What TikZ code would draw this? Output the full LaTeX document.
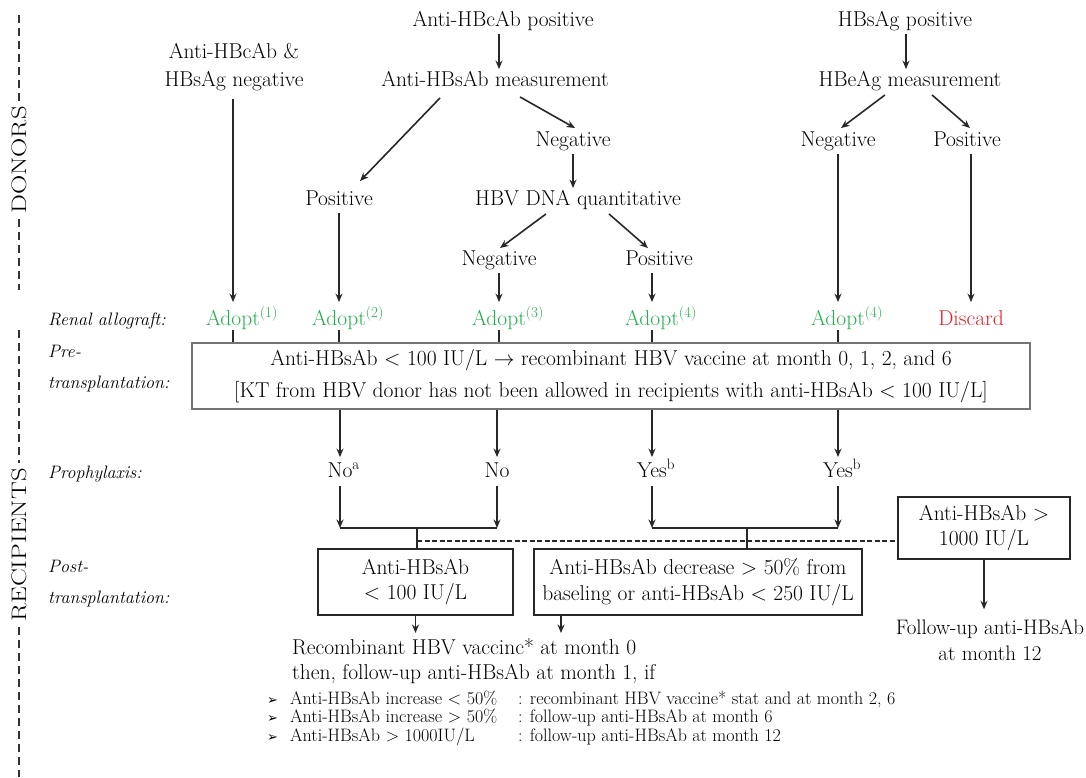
\documentclass[tikz,border=0pt]{standalone}
\usepackage{fontspec}
\newfontfamily\symfont{DejaVu Sans}
\usetikzlibrary{arrows.meta}

\definecolor{adoptgreen}{RGB}{34,177,76}
\definecolor{discardred}{RGB}{235,28,36}
\definecolor{linegray}{RGB}{40,40,40}
\newcommand{\fsmain}{\fontsize{21.5}{28}\selectfont}
\newcommand{\fslist}{\fontsize{18}{20}\selectfont}

\begin{document}
\begin{tikzpicture}[x=1pt,y=-1pt,
	txt/.style={font=\fsmain, inner sep=0pt, text height=15pt, text depth=4.5pt},
	multi/.style={font=\fsmain, inner sep=0pt, align=center},
	rowlbl/.style={font=\fontsize{18}{31}\selectfont\itshape, inner sep=0pt, align=left},
	box/.style={draw=linegray, line width=1.4pt, align=center, inner sep=0pt},
	adopt/.style={txt, text=adoptgreen},
	lst/.style={font=\fslist, inner sep=0pt, anchor=base west},
	arr/.style={draw=linegray, line width=1.6pt, -{Stealth[length=8.5pt,width=7pt]}, shorten <=3pt, shorten >=2pt},
	toad/.style={arr, shorten >=8pt},
	link/.style={draw=linegray, line width=1.6pt},
	dashlink/.style={draw=linegray, line width=1.2pt, dash pattern=on 5pt off 2.5pt},
	side/.style={draw=black!80, line width=2.4pt, dash pattern=on 8pt off 5pt},
	sidelbl/.style={font=\fontsize{21}{24}\selectfont, rotate=90, inner xsep=5pt, inner ysep=0pt}]
	\useasboundingbox (0,0) rectangle (1086,777);

	% side bars
	\node[sidelbl] (donors) at (19,160) {\scalebox{1.27}[1]{DONORS}};
	\draw[side] (19,15) -- (donors.east);
	\draw[side] (donors.west) -- (19,290);
	\node[sidelbl] (recip) at (19,545) {\scalebox{1.27}[1]{RECIPIENTS}};
	\draw[side] (19,330) -- (recip.east);
	\draw[side] (recip.west) -- (19,777);

	% row labels
	\node[rowlbl, anchor=base west] (rl) at (48,325) {Renal allograft:};
	\node[rowlbl, anchor=west] (prel) at (48,369) {Pre-\\transplantation:};
	\node[rowlbl, anchor=base west] (prol) at (48,478) {Prophylaxis:};
	\node[rowlbl, anchor=west] (postl) at (48,584) {Post-\\transplantation:};

	% donors
	\node[txt] (hbc) at (503,21) {Anti-HBcAb positive};
	\node[txt] (hbsm) at (495,81) {Anti-HBsAb measurement};
	\node[multi] (neg0) at (234,67) {Anti-HBcAb \&\\HBsAg negative};
	\node[txt] (pos1) at (339,200) {Positive};
	\node[txt] (neg1) at (573,141) {Negative};
	\node[txt] (dna) at (578,200) {HBV DNA quantitative};
	\node[txt] (neg2) at (499,260) {Negative};
	\node[txt] (pos2) at (659,260) {Positive};
	\node[txt] (hbs) at (905,21) {HBsAg positive};
	\node[txt] (hbe) at (910,81) {HBeAg measurement};
	\node[txt] (neg3) at (838,141) {Negative};
	\node[txt] (pos3) at (967,141) {Positive};

	\node[adopt] (ad1) at (233,320) {Adopt\rlap{\textsuperscript{(1)}}};
	\node[adopt] (ad2) at (339,320) {Adopt\rlap{\textsuperscript{(2)}}};
	\node[adopt] (ad3) at (499,320) {Adopt\rlap{\textsuperscript{(3)}}};
	\node[adopt] (ad4) at (652,320) {Adopt\rlap{\textsuperscript{(4)}}};
	\node[adopt] (ad5) at (838,320) {Adopt\rlap{\textsuperscript{(4)}}};
	\node[txt, text=discardred] (disc) at (971,320) {Discard};

	\draw[arr] ([xshift=-4pt]hbc.south) -- ([xshift=4pt]hbsm.north);
	\draw[arr, shorten <=0pt, shorten >=0pt] ([shift={(-55,7)}]hbsm.south) -- ([shift={(21,-9)}]pos1.north);
	\draw[arr, shorten <=0pt, shorten >=0pt] ([shift={(25,6)}]hbsm.south) -- ([shift={(2,-3)}]neg1.north);
	\draw[arr] (neg1.south) -- (neg1.south |- dna.north);
	\draw[arr, shorten <=0pt, shorten >=0pt] ([shift={(-32,4)}]dna.south) -- ([shift={(1,-2)}]neg2.north);
	\draw[arr, shorten <=0pt, shorten >=0pt] ([shift={(31,4)}]dna.south) -- ([shift={(-11,-2)}]pos2.north);
	\draw[arr] ([xshift=1pt]hbs.south) -- ([xshift=-4pt]hbe.north);
	\draw[arr, shorten <=0pt, shorten >=0pt] ([shift={(-25,4)}]hbe.south) -- ([shift={(3,-3)}]neg3.north);
	\draw[arr, shorten <=0pt, shorten >=0pt] ([shift={(22,4)}]hbe.south) -- ([shift={(3,-3)}]pos3.north);

	\draw[toad, shorten <=8pt] (neg0.south -| ad1.north) -- (ad1.north);
	\draw[toad] (pos1.south) -- (ad2.north);
	\draw[toad] (neg2.south) -- (ad3.north);
	\draw[toad] (ad4.north |- pos2.south) -- (ad4.north);
	\draw[toad] (neg3.south) -- (ad5.north);
	\draw[toad] (disc.north |- pos3.south) -- (disc.north);

	% recipients
	\node[box, draw=black!55, line width=1.8pt, minimum width=838pt, minimum height=66pt,
		font=\fontsize{21.5}{32}\selectfont] (pre) at (611,376)
		{Anti-HBsAb < 100 IU/L $\rightarrow$ recombinant HBV vaccine at month 0, 1, 2, and 6\\
		{[}KT from HBV donor has not been allowed in recipients with anti-HBsAb < 100 IU/L{]}};

	\draw[link] (ad1.south) -- (ad1.south |- pre.north);
	\draw[link] (ad2.south) -- (ad2.south |- pre.north);
	\draw[link] (ad3.south) -- (ad3.south |- pre.north);
	\draw[link] (ad4.south) -- (ad4.south |- pre.north);
	\draw[link] (ad5.south) -- (ad5.south |- pre.north);

	\node[txt] (no1) at (340,472) {No\rlap{\textsuperscript{a}}};
	\node[txt] (no2) at (497,472) {No};
	\node[txt] (yes1) at (652,472) {Yes\rlap{\textsuperscript{b}}};
	\node[txt] (yes2) at (838,472) {Yes\rlap{\textsuperscript{b}}};

	\draw[arr, shorten <=0pt, shorten >=5pt] (no1.north |- pre.south) -- (no1.north);
	\draw[arr, shorten <=0pt, shorten >=5pt] (no2.north |- pre.south) -- (no2.north);
	\draw[arr, shorten <=0pt, shorten >=5pt] (yes1.north |- pre.south) -- (yes1.north);
	\draw[arr, shorten <=0pt, shorten >=5pt] (yes2.north |- pre.south) -- (yes2.north);

	\coordinate (j1) at (417,528);
	\coordinate (j2) at (747,528);
	\coordinate (d1) at (417,541);

	\node[box, minimum width=195pt, minimum height=66pt, font=\fontsize{21.5}{25}\selectfont] (low1) at (415.5,582) {Anti-HBsAb\\< 100 IU/L};
	\node[box, minimum width=328pt, minimum height=66pt, font=\fontsize{21.5}{26}\selectfont] (dec) at (698,582) {Anti-HBsAb decrease > 50\% from\\baseling or anti-HBsAb < 250 IU/L};
	\node[box, minimum width=172pt, minimum height=62pt, font=\fontsize{21.5}{25}\selectfont] (high) at (984,528) {Anti-HBsAb >\\1000 IU/L};

	\draw[arr, shorten <=4pt, shorten >=0pt] (no1.south) -- (no1.south |- j1);
	\draw[arr, shorten <=4pt, shorten >=0pt] (no2.south) -- (no2.south |- j1);
	\draw[arr, shorten <=4pt, shorten >=0pt] (yes1.south) -- (yes1.south |- j1);
	\draw[arr, shorten <=4pt, shorten >=0pt] (yes2.south) -- (yes2.south |- j1);
	\draw[link] (no1.south |- j1) -- (no2.south |- j1);
	\draw[link] (yes1.south |- j1) -- (yes2.south |- j1);
	\draw[dashlink] (d1) -- (d1 -| high.west);
	\draw[link] (j1) -- (j1 |- low1.north);
	\draw[link] (j2) -- (j2 |- dec.north);

	\node[multi, align=left, anchor=north west, font=\fontsize{21.5}{25}\selectfont] (vac) at (292,638)
		{Recombinant HBV vaccinc* at month 0\\then, follow-up anti-HBsAb at month 1, if};
	\node[multi, font=\fontsize{21}{26}\selectfont] (fu) at (990,640) {Follow-up anti-HBsAb\\at month 12};

	\draw[arr, shorten <=0pt, shorten >=5pt] (low1.south) -- (low1.south |- vac.north);
	\draw[arr, shorten <=0pt, shorten >=5pt] ([xshift=-137pt]dec.south) -- ([xshift=-137pt]dec.south |- vac.north);
	\draw[arr, shorten <=0pt, shorten >=10pt] (high.south) -- (high.south |- fu.north);

	% list
	\node[lst] (b1) at (267,704) {\fontsize{13}{15}\symfont ➢};
	\node[lst] (b2) at (267,722) {\fontsize{13}{15}\symfont ➢};
	\node[lst] (b3) at (267,741) {\fontsize{13}{15}\symfont ➢};
	\node[lst] (l1) at (290,704) {Anti-HBsAb increase < 50\%};
	\node[lst] (l2) at (290,722) {Anti-HBsAb increase > 50\%};
	\node[lst] (l3) at (290,741) {Anti-HBsAb > 1000IU/L};
	\node[lst] (r1) at (518,704) {: recombinant HBV vaccine* stat and at month 2, 6};
	\node[lst] (r2) at (518,722) {: follow-up anti-HBsAb at month 6};
	\node[lst] (r3) at (518,741) {: follow-up anti-HBsAb at month 12};
\end{tikzpicture}
\end{document}
